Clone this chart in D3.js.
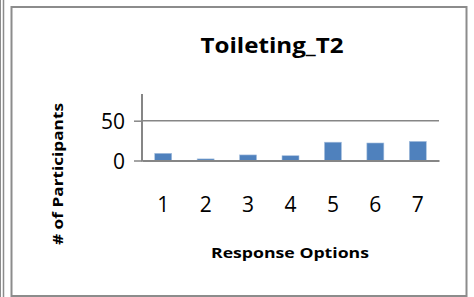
<!DOCTYPE html>
<html>
<head>
<meta charset="utf-8">
<script src="https://cdn.jsdelivr.net/npm/d3@7"></script>
<style>
  body { margin: 0; background: #fff; }
  svg { display: block; font-family: "Open Sans", sans-serif; }
</style>
</head>
<body>
<svg width="474" height="297"></svg>
<script>
var categories = ['1', '2', '3', '4', '5', '6', '7'];
var participants = [9, 2, 7, 6, 23, 22, 24];
var yTicks = [0, 50];

var svg = d3.select('svg');

// outer frames
svg.append('line')
  .attr('x1', 3.5).attr('x2', 3.5).attr('y1', 0).attr('y2', 297)
  .attr('stroke', '#8c8c8c').attr('stroke-width', 1.5);
svg.append('line')
  .attr('x1', 0.5).attr('x2', 0.5).attr('y1', 0).attr('y2', 297)
  .attr('stroke', '#8c8c8c').attr('stroke-width', 1);
svg.append('rect')
  .attr('x', 11.5).attr('y', 7).attr('width', 455).attr('height', 289)
  .attr('fill', '#fff').attr('stroke', '#8c8c8c').attr('stroke-width', 2);

var plot = {left: 142, right: 439, top: 94, bottom: 160.5};

var x = d3.scaleBand()
  .domain(categories)
  .range([plot.left, plot.right])
  .paddingInner(0.6).paddingOuter(0.3);

var y = d3.scaleLinear()
  .domain([0, 50])
  .range([plot.bottom, 120.7]);

// gridline at 50
svg.append('line')
  .attr('x1', plot.left).attr('x2', plot.right)
  .attr('y1', y(50)).attr('y2', y(50))
  .attr('stroke', '#868686').attr('stroke-width', 1.5);

// bars
svg.selectAll('rect.bar')
  .data(participants)
  .enter()
  .append('rect')
  .attr('class', 'bar')
  .attr('x', function(d, i){ return x(categories[i]) })
  .attr('width', x.bandwidth())
  .attr('y', function(d){ return y(d) })
  .attr('height', function(d){ return y(0) - y(d) })
  .attr('fill', '#4f81bd')
  .attr('stroke', '#a7c0de').attr('stroke-width', 0.6);

// y axis
var yAxis = svg.append('g')
  .attr('transform', 'translate(' + plot.left + ',0)')
  .call(d3.axisLeft(y).tickValues(yTicks).tickSize(8).tickSizeOuter(0).tickPadding(9));
yAxis.select('.domain').remove();
yAxis.append('line')
  .attr('x1', 0).attr('x2', 0).attr('y1', plot.top).attr('y2', plot.bottom + 1)
  .attr('stroke', '#868686').attr('stroke-width', 2);
yAxis.selectAll('.tick line').attr('stroke', '#868686').attr('stroke-width', 1.5);
yAxis.selectAll('.tick text')
  .attr('font-size', 21).attr('fill', '#000').attr('dy', '0.36em')
  .style('font-family', '"Open Sans", sans-serif');

// x axis
var xAxis = svg.append('g')
  .attr('transform', 'translate(0,' + plot.bottom + ')')
  .call(d3.axisBottom(x).tickSize(0));
xAxis.select('.domain')
  .attr('stroke', '#868686').attr('stroke-width', 2);
xAxis.selectAll('.tick text')
  .attr('y', 51.5).attr('dy', 0)
  .attr('font-size', 21).attr('fill', '#000')
  .style('font-family', '"Open Sans", sans-serif');

// titles
svg.append('text')
  .attr('x', 272).attr('y', 53)
  .attr('text-anchor', 'middle')
  .attr('font-size', 22).attr('font-weight', 'bold')
  .attr('textLength', 143).attr('lengthAdjust', 'spacingAndGlyphs')
  .text('Toileting_T2');

svg.append('text')
  .attr('x', 290).attr('y', 258)
  .attr('text-anchor', 'middle')
  .attr('font-size', 15).attr('font-weight', 'bold')
  .attr('textLength', 158).attr('lengthAdjust', 'spacingAndGlyphs')
  .text('Response Options');

svg.append('text')
  .attr('transform', 'translate(63,174) rotate(-90)')
  .attr('text-anchor', 'middle')
  .attr('font-size', 15).attr('font-weight', 'bold')
  .attr('textLength', 142).attr('lengthAdjust', 'spacingAndGlyphs')
  .text('# of Participants');
</script>
</body>
</html>
